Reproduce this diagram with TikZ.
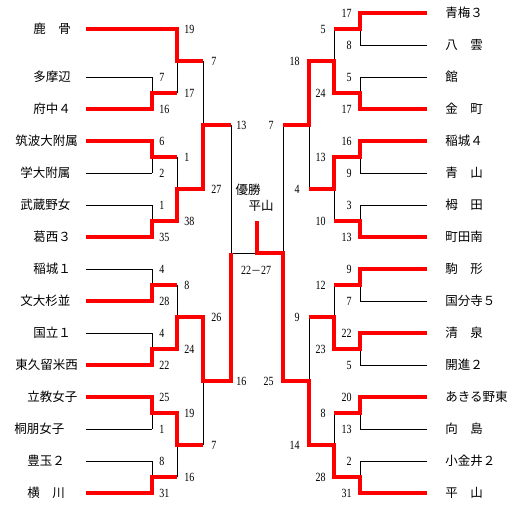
\documentclass[tikz,border=0pt]{standalone}
\usepackage{fontspec}
\newfontfamily\jpfont{Noto Sans CJK JP}
\newfontfamily\numfont[FakeStretch=0.8]{Liberation Serif}

\begin{document}
\begin{tikzpicture}[x=1pt,y=-1pt,line width=0.8pt,
    win/.style={red,line width=4pt,line join=miter},
    team/.style={font=\jpfont\fontsize{12.5}{13}\selectfont,inner sep=0pt},
    score/.style={font=\numfont\fontsize{12.5}{13}\selectfont,inner sep=0pt}]
    \useasboundingbox (0,0) rectangle (525,511);

    % left half
    \draw (86,29) -- (177,29);
    \foreach \y in {77,109,...,493}
        \draw (86,\y) -- (152,\y);
    \foreach \y in {77,141,...,461}
        \draw (152,\y) -- (152,\y+32) (152,\y+16) -- (177,\y+16);
    \foreach \y in {29,157,285,413}
        \draw (177,\y) -- (177,\y+64) (177,\y+32) -- (203,\y+32);
    \foreach \y in {61,317}
        \draw (203,\y) -- (203,\y+128) (203,\y+64) -- (231,\y+64);
    \draw (231,125) -- (231,381);
    \draw (231,253) -- (283,253);

    % right half
    \foreach \y in {13,45,...,493}
        \draw (427,\y) -- (360,\y);
    \foreach \y in {13,77,...,461}
        \draw (360,\y) -- (360,\y+32) (360,\y+16) -- (334,\y+16);
    \foreach \y in {29,157,285,413}
        \draw (334,\y) -- (334,\y+64) (334,\y+32) -- (309,\y+32);
    \foreach \y in {61,317}
        \draw (309,\y) -- (309,\y+128) (309,\y+64) -- (283,\y+64);
    \draw (283,125) -- (283,381);

    % winners
    \draw[win] (86,29) -- (177,29) -- (177,61) -- (203,61);
    \draw[win] (86,109) -- (152,109) -- (152,93) -- (177,93);
    \draw[win] (86,141) -- (152,141) -- (152,157) -- (177,157);
    \draw[win] (86,237) -- (152,237) -- (152,221) -- (177,221) -- (177,189)
        -- (203,189) -- (203,125) -- (231,125);
    \draw[win] (86,301) -- (152,301) -- (152,285) -- (177,285);
    \draw[win] (86,365) -- (152,365) -- (152,349) -- (177,349) -- (177,317)
        -- (203,317) -- (203,381) -- (231,381) -- (231,253);
    \draw[win] (86,397) -- (152,397) -- (152,413) -- (177,413) -- (177,445)
        -- (203,445);
    \draw[win] (86,493) -- (152,493) -- (152,477) -- (177,477);

    \draw[win] (427,13) -- (360,13) -- (360,29) -- (334,29);
    \draw[win] (427,109) -- (360,109) -- (360,93) -- (334,93) -- (334,61)
        -- (309,61) -- (309,125) -- (283,125);
    \draw[win] (427,141) -- (360,141) -- (360,157) -- (334,157) -- (334,189)
        -- (309,189);
    \draw[win] (427,237) -- (360,237) -- (360,221) -- (334,221);
    \draw[win] (427,269) -- (360,269) -- (360,285) -- (334,285);
    \draw[win] (427,333) -- (360,333) -- (360,349) -- (334,349) -- (334,317)
        -- (309,317);
    \draw[win] (427,397) -- (360,397) -- (360,413) -- (334,413);
    \draw[win] (427,493) -- (360,493) -- (360,477) -- (334,477) -- (334,445)
        -- (309,445) -- (309,381) -- (283,381) -- (283,253) -- (257,253)
        -- (257,221);

    % teams
    \foreach \t/\y/\x [count=\i] in {鹿　骨/29/33,多摩辺/77/33,府中４/109/33,
        筑波大附属/141/15,学大附属/173/20,武蔵野女/205/20,葛西３/237/33,
        稲城１/269/33,文大杉並/301/20,国立１/333/33,東久留米西/365/15,
        立教女子/397/27,桐朋女子/429/14,豊玉２/461/27,横　川/493/27}
        \node[team,anchor=west] (left\i) at (\x,\y) {\t};
    \foreach \t/\y [count=\i] in {青梅３/13,八　雲/45,館/77,金　町/109,
        稲城４/141,青　山/173,栂　田/205,町田南/237,駒　形/269,国分寺５/301,
        清　泉/333,開進２/365,あきる野東/397,向　島/429,小金井２/461,平　山/493}
        \node[team,anchor=west] (right\i) at (445,\y) {\t};

    % scores
    \foreach \x/\y/\s [count=\i] in {184/29/19,159/77/7,159/109/16,184/93/17,
        211/61/7,159/141/6,159/173/2,184/157/1,159/205/1,159/237/35,184/221/38,
        211/189/27,236/125/13,159/269/4,159/301/28,184/285/8,159/333/4,
        159/365/22,184/349/24,211/317/26,159/397/25,159/429/1,184/413/19,
        159/461/8,159/493/31,184/477/16,211/445/7,236/381/16}
        \node[score,anchor=west] (ls\i) at (\x,\y) {\s};
    \foreach \x/\y/\s [count=\i] in {352/13/17,352/45/8,326/29/5,352/77/5,
        352/109/17,326/93/24,300/61/18,352/141/16,352/173/9,326/157/13,
        352/205/3,352/237/13,326/221/10,300/189/4,274/125/7,352/269/9,
        352/301/7,326/285/12,352/333/22,352/365/5,326/349/23,300/317/9,
        352/397/20,352/429/13,326/413/8,352/461/2,352/493/31,326/477/28,
        300/445/14,274/381/25}
        \node[score,anchor=east] (rs\i) at (\x,\y) {\s};

    % final
    \node[team] (title) at (248,190) {優勝};
    \node[team] (champ) at (261,206) {平山};
    \node[score] (result) at (256,270) {22{\jpfont\fontsize{10}{12}\selectfont －}27};
\end{tikzpicture}
\end{document}
